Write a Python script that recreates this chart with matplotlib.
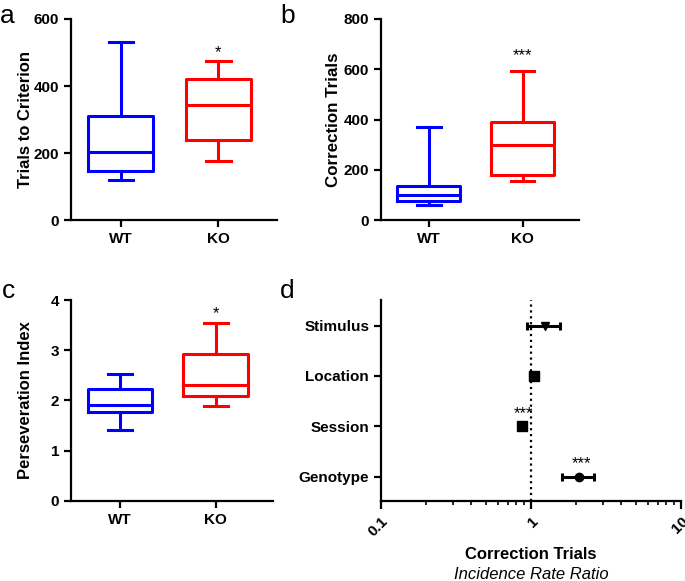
import matplotlib
matplotlib.use("Agg")
import matplotlib.pyplot as plt
import numpy as np

plt.rcParams['font.family'] = ['Liberation Sans', 'DejaVu Sans']

groups = ['WT', 'KO']
colors = ['#0000FF', '#FF0000']

# box stats: whislo, q1, med, q3, whishi
trials_wt = [118, 146, 204, 309, 531]
trials_ko = [177, 240, 343, 421, 476]
corr_wt = [60, 74, 98, 135, 371]
corr_ko = [155, 179, 298, 391, 593]
pers_wt = [1.40, 1.77, 1.91, 2.23, 2.52]
pers_ko = [1.88, 2.09, 2.31, 2.92, 3.54]

# incidence rate ratios (panel d)
factors = ['Genotype', 'Session', 'Location', 'Stimulus']
irr = [2.10, 0.867, 1.05, 1.24]
irr_lo = [1.60, 0.867, 0.99, 0.936]
irr_hi = [2.64, 0.867, 1.12, 1.56]
markers = ['o', 's', 's', 'v']
sig = ['***', '***', '', '']


def stats(v):
    return dict(whislo=v[0], q1=v[1], med=v[2], q3=v[3], whishi=v[4], fliers=[])


def style(ax):
    for s in ['top', 'right']:
        ax.spines[s].set_visible(False)
    for s in ['left', 'bottom']:
        ax.spines[s].set_linewidth(1.6)
    ax.tick_params(width=1.6, length=5, labelsize=11)
    for lab in ax.get_xticklabels() + ax.get_yticklabels():
        lab.set_fontweight('bold')


def boxpanel(ax, wt, ko, ylim, yticks, ylabel, lsize, lx, star, star_y):
    for i, (v, c) in enumerate(zip([wt, ko], colors)):
        lp = dict(color=c, linewidth=2.2)
        ax.bxp([stats(v)], positions=[i + 1], widths=0.67, capwidths=0.25,
               boxprops=lp, whiskerprops=lp, capprops=lp, medianprops=lp,
               showfliers=False)
    ax.set_xlim(0.49, 2.6)
    ax.set_ylim(*ylim)
    ax.set_yticks(yticks)
    ax.set_xticks([1, 2])
    ax.set_xticklabels(groups)
    ax.set_ylabel(ylabel, fontsize=lsize, fontweight='bold')
    ax.yaxis.set_label_coords(lx, 0.5)
    ax.text(2, star_y, star, ha='center', va='center', fontsize=12)
    style(ax)


fig = plt.figure(figsize=(6.85, 5.81), dpi=100)
ax_a = fig.add_axes([0.1036, 0.6213, 0.3007, 0.346])
ax_b = fig.add_axes([0.5562, 0.6213, 0.289, 0.346])
ax_c = fig.add_axes([0.1036, 0.1382, 0.295, 0.3454])
ax_d = fig.add_axes([0.5562, 0.1382, 0.438, 0.3454])

boxpanel(ax_a, trials_wt, trials_ko, (0, 600), [0, 200, 400, 600],
         'Trials to Criterion', 12, -0.184, '*', 500)
boxpanel(ax_b, corr_wt, corr_ko, (0, 800), [0, 200, 400, 600, 800],
         'Correction Trials', 12.2, -0.202, '***', 655)
boxpanel(ax_c, pers_wt, pers_ko, (0, 4), [0, 1, 2, 3, 4],
         'Perseveration Index', 12, -0.188, '*', 3.72)

# panel d: forest plot
ypos = np.arange(len(factors))
ax_d.axvline(1, color='black', linestyle=':', linewidth=1.6)
for y, m, lo, hi, mk, s in zip(ypos, irr, irr_lo, irr_hi, markers, sig):
    ax_d.errorbar([m], [y], xerr=[[m - lo], [hi - m]], fmt=mk, color='black',
                  markersize=6.5 if mk == 's' else 6, elinewidth=2.2,
                  capsize=3, capthick=2.2)
    if s:
        ax_d.text(m * 1.03, y + 0.26, s, ha='center', va='center', fontsize=12)
ax_d.set_xscale('log')
ax_d.set_xlim(0.1, 10)
ax_d.set_ylim(-0.48, 3.51)
ax_d.set_yticks(ypos)
ax_d.set_yticklabels(factors)
ax_d.set_xticks([0.1, 1, 10])
ax_d.set_xticklabels(['0.1', '1', '10'], rotation=45, ha='right',
                     rotation_mode='anchor')
style(ax_d)
ax_d.tick_params(which='minor', width=1.2, length=3)
ax_d.tick_params(axis='x', which='major', length=6)
ax_d.text(0.5, -0.27, 'Correction Trials', transform=ax_d.transAxes,
          ha='center', va='center', fontsize=12, fontweight='bold')
ax_d.text(0.5, -0.37, 'Incidence Rate Ratio', transform=ax_d.transAxes,
          ha='center', va='center', fontsize=12, style='italic')

for x, y, t in [(0.0, 0.961, 'a'), (0.409, 0.961, 'b'),
                (0.003, 0.487, 'c'), (0.409, 0.487, 'd')]:
    fig.text(x, y, t, fontsize=19, ha='left', va='baseline')

fig.savefig('out.png', dpi=100)
